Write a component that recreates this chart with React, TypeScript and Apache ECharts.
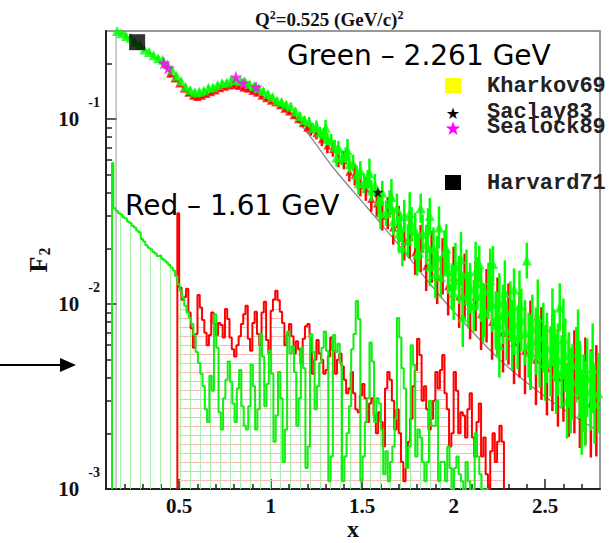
import React, { useEffect, useRef } from 'react';
import * as echarts from 'echarts';

const X_MIN = 0.1;
const X_MAX = 2.8;
const Y_MIN = 0.001;
const Y_MAX = 0.3;

const xLabelTicks = [0.5, 1, 1.5, 2, 2.5];
const xMinorTicks = [0.2, 0.3, 0.4, 0.6, 0.7, 0.8, 0.9, 1.1, 1.2, 1.3, 1.4, 1.6, 1.7, 1.8, 1.9, 2.1, 2.2, 2.3, 2.4, 2.6, 2.7];
const yMinorTicks = [0.002, 0.003, 0.004, 0.005, 0.006, 0.007, 0.008, 0.009, 0.02, 0.03, 0.04, 0.05, 0.06, 0.07, 0.08, 0.09, 0.2];

// Green (2.261 GeV) histogram
const greenPeakX = 0.133;
const greenPeakF2 = 0.058;
const greenHistStart = 0.14;
const greenHistWidth = 0.0125;
const greenHist = [
  0.033, 0.032, 0.031, 0.0305, 0.0295, 0.029, 0.028, 0.0275, 0.0265, 0.026,
  0.025, 0.0245, 0.0225, 0.0218, 0.0208, 0.0202, 0.0198, 0.0192, 0.0188, 0.0182,
  0.0183, 0.0176, 0.0172, 0.0168, 0.0163, 0.0158, 0.0152, 0.0142, 0.0128, 0.0118,
  0.0108, 0.0098, 0.009, 0.0084, 0.0078, 0.0068,
  0.0055, 0.0048, 0.0042, 0.0036, 0.0027, 0.0023, 0.0041, 0.0034, 0.0088, 0.0058,
  0.0026, 0.0021, 0.0031, 0.0039, 0.0049, 0.0038, 0.0029, 0.0023, 0.0035, 0.0044,
  0.0028, 0.0022, 0.0021, 0.0028, 0.0047, 0.0036, 0.0021, 0.0027, 0.0069, 0.0052,
  0.0028, 0.0037, 0.0056, 0.0042, 0.0018, 0.0025, 0.0043, 0.0031, 0.0014, 0.0021,
  0.0071, 0.0054, 0.0059, 0.0043, 0.0022, 0.0031, 0.0058, 0.0045, 0.0013, 0.0017,
  0.0069, 0.0055, 0.0027, 0.0036, 0.0048, 0.0058, 0.0071, 0.0056, 0.0011, 0.0015,
  0.0068, 0.0055, 0.0061, 0.0048, 0.0011, 0.0015, 0.002, 0.0028, 0.0057, 0.0069,
  0.0104, 0.0083, 0.0011, 0.0015, 0.0023, 0.0031, 0.0062, 0.0049, 0.0023, 0.0031,
  0.0029, 0.0021, 0.0012, 0.0016, 0.0011, 0.0014, 0.0017, 0.0024, 0.0084, 0.0066,
  0.0045, 0.0035, 0.0013, 0.0017, 0.006, 0.0047, 0.0015, 0.0021, 0.0019, 0.0014,
  0.0011, 0.0014, 0.003, 0.0022, 0.0022, 0.003, 0.0011, 0.0014, 0.0014, 0.0011,
  0.0017, 0.0013, 0.001, 0.0013, 0.0015, 0.0012, 0.0011, 0.0009, 0.0014, 0.0011,
  0.0009, 0.001, 0.002, 0.0015, 0.0012, 0.001, 0.0009, 0.001,
];

// Red (1.61 GeV) histogram
const redPeakX = 0.49;
const redPeakF2 = 0.031;
const redHistStart = 0.5;
const redHistWidth = 0.0125;
const redHist = [
  0.0123, 0.0106, 0.0109, 0.0121, 0.009, 0.0074, 0.0058, 0.0069, 0.0112, 0.0096,
  0.0082, 0.007, 0.006, 0.0068, 0.009, 0.0078, 0.0068, 0.0079, 0.0077, 0.0066,
  0.0094, 0.0083, 0.0066, 0.0057, 0.0052, 0.006, 0.0067, 0.0078, 0.0088, 0.0098,
  0.0065, 0.0056, 0.0079, 0.0091, 0.0069, 0.006, 0.009, 0.0103, 0.0064, 0.0054,
  0.0092, 0.0106, 0.0118, 0.0105, 0.0091, 0.0079, 0.006, 0.0068, 0.0078, 0.0067,
  0.0054, 0.0063, 0.0057, 0.0048, 0.0065, 0.0076, 0.0078, 0.0066, 0.0042, 0.005,
  0.0064, 0.0054, 0.005, 0.0042, 0.0044, 0.0052, 0.0066, 0.0056, 0.0042, 0.005,
  0.0054, 0.0046, 0.0039, 0.0033, 0.0035, 0.0043, 0.0033, 0.0027, 0.0026, 0.0032,
  0.0037, 0.0031, 0.0023, 0.0029, 0.0031, 0.0025, 0.002, 0.0026, 0.0023, 0.0017,
  0.0035, 0.0043, 0.0039, 0.003, 0.0021, 0.0027, 0.002, 0.0014, 0.0011, 0.0013,
  0.0018, 0.0024, 0.0036, 0.0044, 0.0065, 0.0053, 0.003, 0.0036, 0.0027, 0.0021,
  0.0024, 0.003, 0.0043, 0.0035, 0.0044, 0.0053, 0.0033, 0.0027, 0.0017, 0.002,
  0.0043, 0.0034, 0.002, 0.0026, 0.0025, 0.0019, 0.0027, 0.0033, 0.0019, 0.0015,
  0.0023, 0.0029, 0.0015, 0.0019, 0.0012, 0.001, 0.0016, 0.002, 0.0014, 0.0018,
  0.0022, 0.0018,
];

// Green data points (2.261 GeV): x, F2, relative error
const greenX = [
  0.16, 0.185, 0.21, 0.235, 0.26, 0.285, 0.31, 0.335, 0.36, 0.385,
  0.41, 0.435, 0.46, 0.485, 0.51, 0.535, 0.56, 0.585, 0.61, 0.635,
  0.66, 0.685, 0.71, 0.735, 0.76, 0.785, 0.81, 0.835, 0.86, 0.885,
  0.91, 0.935, 0.96, 0.985, 1.01, 1.035, 1.06, 1.085, 1.11, 1.135,
  1.16, 1.185,
  1.21, 1.23, 1.25, 1.27, 1.29, 1.31, 1.33, 1.35, 1.37, 1.39,
  1.41, 1.43, 1.45, 1.47, 1.49, 1.51, 1.53, 1.55, 1.57, 1.59,
  1.61, 1.63, 1.65, 1.67, 1.69, 1.71, 1.73, 1.75, 1.77, 1.79,
  1.81, 1.83, 1.85, 1.87, 1.89, 1.91, 1.93, 1.95, 1.97, 1.99,
  2.01, 2.03, 2.05, 2.07, 2.09, 2.11, 2.13, 2.15, 2.17, 2.19,
  2.21, 2.23, 2.25, 2.27, 2.29, 2.31, 2.33, 2.35, 2.37, 2.39,
  2.41, 2.43, 2.45, 2.47, 2.49, 2.51, 2.53, 2.55, 2.57, 2.59,
  2.61, 2.63, 2.65, 2.67, 2.69, 2.71, 2.73, 2.75, 2.77, 2.79,
  1.72, 1.82, 1.87, 1.92, 2.05, 2.14, 2.215, 2.25, 2.33, 2.4, 2.58, 2.62, 2.7,
  1.3, 1.36, 1.42, 1.48, 1.54, 1.6, 1.66, 1.7, 1.76, 1.8,
  1.86, 1.9, 1.96, 2.0, 2.04, 2.08, 2.12, 2.16, 2.2, 2.24,
  2.28, 2.32, 2.36, 2.42, 2.46, 2.5, 2.54, 2.56, 2.6, 2.64,
  2.68, 2.72, 2.76,
];
const greenF2 = [
  0.3, 0.292, 0.282, 0.276, 0.262, 0.252, 0.238, 0.231, 0.222, 0.214,
  0.21, 0.198, 0.186, 0.172, 0.161, 0.15, 0.144, 0.14, 0.141, 0.143,
  0.148, 0.149, 0.153, 0.157, 0.158, 0.163, 0.163, 0.161, 0.16, 0.155,
  0.151, 0.147, 0.142, 0.137, 0.132, 0.126, 0.124, 0.12, 0.117, 0.11,
  0.104, 0.099,
  0.097, 0.09, 0.092, 0.085, 0.083, 0.078, 0.077, 0.071, 0.07, 0.062,
  0.064, 0.057, 0.058, 0.05, 0.053, 0.045, 0.047, 0.041, 0.044, 0.036,
  0.04, 0.031, 0.035, 0.028, 0.033, 0.026, 0.03, 0.022, 0.027, 0.025,
  0.019, 0.024, 0.021, 0.016, 0.02, 0.018, 0.014, 0.019, 0.015, 0.0125,
  0.016, 0.0135, 0.011, 0.0145, 0.0122, 0.0098, 0.013, 0.0112, 0.0092, 0.0118,
  0.01, 0.0082, 0.0102, 0.0088, 0.0072, 0.0091, 0.0078, 0.0066, 0.0082, 0.007,
  0.006, 0.0074, 0.0063, 0.0054, 0.0066, 0.0058, 0.0049, 0.006, 0.005, 0.0043,
  0.0053, 0.0044, 0.0038, 0.0047, 0.0039, 0.0033, 0.004, 0.0034, 0.0029, 0.0033,
  0.02, 0.033, 0.03, 0.026, 0.0085, 0.0165, 0.0165, 0.006, 0.012, 0.0172, 0.0096, 0.003, 0.0026,
  0.09, 0.062, 0.068, 0.045, 0.051, 0.031, 0.038, 0.024, 0.031, 0.0185,
  0.025, 0.0145, 0.02, 0.0115, 0.0175, 0.0105, 0.015, 0.009, 0.0135, 0.0078,
  0.0115, 0.0068, 0.0098, 0.0055, 0.0085, 0.0048, 0.0075, 0.0042, 0.0065, 0.0034,
  0.0055, 0.0029, 0.0045,
];
const greenErr = [
  0.03, 0.03, 0.03, 0.03, 0.03, 0.03, 0.03, 0.03, 0.03, 0.03,
  0.03, 0.03, 0.03, 0.03, 0.03, 0.03, 0.03, 0.03, 0.03, 0.03,
  0.03, 0.03, 0.03, 0.03, 0.03, 0.03, 0.03, 0.03, 0.03, 0.03,
  0.04, 0.04, 0.04, 0.04, 0.04, 0.04, 0.04, 0.04, 0.05, 0.05,
  0.05, 0.05,
  0.06, 0.06, 0.07, 0.07, 0.08, 0.08, 0.08, 0.09, 0.09, 0.1,
  0.1, 0.11, 0.11, 0.12, 0.12, 0.13, 0.13, 0.14, 0.15, 0.15,
  0.16, 0.17, 0.18, 0.19, 0.2, 0.2, 0.22, 0.23, 0.24, 0.25,
  0.26, 0.27, 0.28, 0.28, 0.3, 0.3, 0.3, 0.32, 0.32, 0.33,
  0.34, 0.35, 0.35, 0.36, 0.37, 0.38, 0.38, 0.4, 0.4, 0.42,
  0.42, 0.43, 0.44, 0.45, 0.45, 0.46, 0.47, 0.48, 0.48, 0.5,
  0.5, 0.52, 0.52, 0.53, 0.54, 0.55, 0.55, 0.56, 0.57, 0.58,
  0.58, 0.6, 0.6, 0.6, 0.62, 0.62, 0.63, 0.64, 0.65, 0.65,
  0.25, 0.2, 0.25, 0.3, 0.45, 0.25, 0.25, 0.5, 0.3, 0.25, 0.35, 0.6, 0.7,
  0.1, 0.12, 0.15, 0.15, 0.2, 0.22, 0.25, 0.25, 0.3, 0.3,
  0.32, 0.35, 0.35, 0.4, 0.4, 0.42, 0.45, 0.45, 0.48, 0.5,
  0.5, 0.55, 0.55, 0.6, 0.6, 0.6, 0.62, 0.65, 0.65, 0.7,
  0.7, 0.7, 0.75,
];

// Red data points (1.61 GeV)
const redX = [
  0.45, 0.475, 0.5, 0.525, 0.55, 0.575, 0.6, 0.625, 0.65, 0.675,
  0.7, 0.725, 0.75, 0.775, 0.8, 0.825, 0.85, 0.875, 0.9, 0.925,
  0.95, 0.975, 1.0, 1.025, 1.05, 1.075, 1.1, 1.125, 1.15, 1.175, 1.2,
  1.22, 1.25, 1.28, 1.31, 1.34, 1.37, 1.4, 1.43, 1.46, 1.49,
  1.52, 1.55, 1.58, 1.61, 1.64, 1.67, 1.7, 1.73, 1.76, 1.79,
  1.82, 1.85, 1.88, 1.91, 1.94, 1.97, 2.0, 2.03, 2.06, 2.09,
  2.12, 2.15, 2.18, 2.21, 2.24, 2.27, 2.3, 2.33, 2.36, 2.39,
  2.42, 2.45, 2.48, 2.51, 2.54, 2.57, 2.6, 2.63, 2.66, 2.69,
  2.72, 2.75, 2.78,
];
const redF2 = [
  0.176, 0.166, 0.156, 0.146, 0.139, 0.134, 0.132, 0.134, 0.137, 0.14,
  0.143, 0.147, 0.15, 0.152, 0.153, 0.151, 0.148, 0.146, 0.142, 0.139,
  0.134, 0.13, 0.126, 0.123, 0.119, 0.114, 0.11, 0.105, 0.1, 0.095, 0.09,
  0.088, 0.084, 0.078, 0.072, 0.069, 0.061, 0.06, 0.052, 0.05, 0.044,
  0.042, 0.037, 0.035, 0.03, 0.031, 0.026, 0.027, 0.022, 0.023, 0.019,
  0.02, 0.016, 0.018, 0.014, 0.016, 0.0125, 0.014, 0.011, 0.0125, 0.0098,
  0.011, 0.0088, 0.0098, 0.008, 0.0086, 0.007, 0.0078, 0.0062, 0.0068, 0.0056,
  0.006, 0.005, 0.0054, 0.0045, 0.0048, 0.004, 0.0043, 0.0036, 0.0038, 0.0032,
  0.0034, 0.0029, 0.003,
];
const redErr = [
  0.04, 0.04, 0.04, 0.04, 0.04, 0.04, 0.04, 0.04, 0.04, 0.04,
  0.04, 0.04, 0.04, 0.04, 0.04, 0.04, 0.04, 0.04, 0.04, 0.04,
  0.04, 0.04, 0.04, 0.04, 0.04, 0.04, 0.04, 0.04, 0.04, 0.04, 0.04,
  0.08, 0.08, 0.09, 0.1, 0.1, 0.11, 0.12, 0.13, 0.14, 0.15,
  0.16, 0.17, 0.18, 0.2, 0.22, 0.24, 0.26, 0.28, 0.3, 0.32,
  0.34, 0.36, 0.38, 0.4, 0.42, 0.44, 0.46, 0.48, 0.5, 0.52,
  0.54, 0.56, 0.58, 0.6, 0.62, 0.64, 0.66, 0.68, 0.7, 0.72,
  0.74, 0.76, 0.78, 0.8, 0.82, 0.84, 0.86, 0.88, 0.9, 0.92,
  0.94, 0.96, 1.0,
];

// Model curve (grey)
const thresholdX = 0.155;
const theoryX = [0.19, 0.209, 0.286, 0.373, 0.477, 0.54, 0.59, 0.64, 0.7, 0.78, 0.865, 0.94, 1.013, 1.105, 1.215, 1.34, 1.526, 1.723, 1.854, 1.98, 2.253, 2.526, 2.783];
const theoryF2 = [0.31, 0.284, 0.251, 0.214, 0.167, 0.14, 0.127, 0.131, 0.146, 0.155, 0.155, 0.144, 0.13, 0.109, 0.081, 0.055, 0.0334, 0.0196, 0.0135, 0.0096, 0.005, 0.00303, 0.00208];

// Other experiments
const harvardX = [0.27];
const harvardF2 = [0.261];
const sealockX = [0.417, 0.44, 0.81, 0.85, 0.92];
const sealockF2 = [0.201, 0.189, 0.169, 0.157, 0.149];
const saclayX = [1.586];
const saclayF2 = [0.0403];

const STAR = 'path://M50,0L61.8,35.1L98.9,35.4L69.1,57.5L80.2,92.9L50,71.4L19.8,92.9L30.9,57.5L1.1,35.4L38.2,35.1Z';
const SERIF = 'Liberation Serif';

function stepData(peakX: number, peakV: number, start: number, width: number, vals: number[]) {
  const d: number[][] = [[peakX, Y_MIN], [peakX, peakV]];
  vals.forEach((v, i) => d.push([start + i * width, v]));
  const end = start + vals.length * width;
  d.push([end, vals[vals.length - 1]]);
  d.push([end, Y_MIN]);
  return d;
}

function binData(start: number, width: number, vals: number[]) {
  return vals.map((v, i) => [start + i * width, start + (i + 1) * width, v]);
}

function errData(xs: number[], ys: number[], es: number[]) {
  return xs.map((x, i) => [x, ys[i] / (1 + es[i]), ys[i] * (1 + es[i])]);
}

function pts(xs: number[], ys: number[]) {
  return xs.map((x, i) => [x, ys[i]]);
}

function errSeries(name: string, data: number[][], color: string, z: number, width: number) {
  return {
    type: 'custom',
    name,
    z,
    clip: true,
    silent: true,
    encode: { x: 0, y: [1, 2] },
    data,
    renderItem: (_p: any, api: any) => {
      const a = api.coord([api.value(0), api.value(1)]);
      const b = api.coord([api.value(0), api.value(2)]);
      return {
        type: 'line',
        shape: { x1: a[0], y1: a[1], x2: b[0], y2: b[1] },
        style: { stroke: color, lineWidth: width },
      };
    },
  };
}

export default function App() {
  const ref = useRef<HTMLDivElement>(null);
  useEffect(() => {
    if (!ref.current) return;
    const chart = echarts.init(ref.current, null, { renderer: 'svg' });

    const lineStyle = { color: '#222', width: 1.5 };

    const option: any = {
      animation: false,
      backgroundColor: '#ffffff',
      title: {
        left: 250,
        top: 4,
        text: '{a|Q}{s|2}{a|=0.525 (GeV/c)}{s|2}',
        textStyle: {
          rich: {
            a: { fontFamily: SERIF, fontWeight: 'bold', fontSize: 19, color: '#111' },
            s: { fontFamily: SERIF, fontWeight: 'bold', fontSize: 12, color: '#111', padding: [0, 0, 9, 0] },
          },
        },
      },
      grid: {
        left: 106, right: 13, top: 31, bottom: 54,
        show: true, borderColor: '#777', borderWidth: 1.5,
        backgroundColor: 'transparent', containLabel: false, outerBoundsMode: 'none',
      },
      xAxis: [
        {
          type: 'value', min: X_MIN, max: X_MAX, position: 'bottom',
          axisLine: { onZero: false, lineStyle: { color: '#222', width: 2 } },
          axisTick: { inside: true, length: 10, customValues: xLabelTicks, lineStyle },
          axisLabel: {
            customValues: xLabelTicks, formatter: (v: number) => String(v),
            color: '#111', fontFamily: SERIF, fontWeight: 'bold', fontSize: 21, lineHeight: 20, margin: 7,
          },
          splitLine: { show: false },
          name: 'x', nameLocation: 'middle', nameGap: 29, nameMoveOverlap: false,
          nameTextStyle: { fontFamily: SERIF, fontWeight: 'bold', fontSize: 24, color: '#111', lineHeight: 22 },
        },
        {
          type: 'value', min: X_MIN, max: X_MAX, position: 'bottom',
          axisLine: { show: false, onZero: false },
          axisTick: { inside: true, length: 5, customValues: xMinorTicks, lineStyle },
          axisLabel: { show: false },
          splitLine: { show: false },
        },
      ],
      yAxis: [
        {
          type: 'log', logBase: 10, min: Y_MIN, max: Y_MAX, position: 'left',
          axisLine: { onZero: false, lineStyle: { color: '#222', width: 2 } },
          axisTick: { inside: true, length: 11, lineStyle },
          axisLabel: {
            showMaxLabel: false, margin: 6,
            formatter: (v: number) => `{b|10}{s|${Math.round(Math.log10(v))}}`,
            rich: {
              b: { fontFamily: SERIF, fontWeight: 'bold', fontSize: 21, color: '#111' },
              s: { fontFamily: SERIF, fontWeight: 'bold', fontSize: 14, color: '#111', padding: [0, 0, 34, 9] },
            },
          },
          splitLine: { show: false },
          name: '{f|F}{s|2}', nameLocation: 'middle', nameRotate: 90, nameGap: 54, nameMoveOverlap: false,
          nameTextStyle: {
            rich: {
              f: { fontFamily: SERIF, fontWeight: 'bold', fontSize: 26, color: '#111' },
              s: { fontFamily: SERIF, fontWeight: 'bold', fontSize: 16, color: '#111', padding: [12, 0, 0, 1] },
            },
          },
        },
        {
          type: 'value', min: Math.log10(Y_MIN), max: Math.log10(Y_MAX), position: 'left',
          axisLine: { show: false, onZero: false },
          axisTick: { inside: true, length: 6, customValues: yMinorTicks.map((v) => Math.log10(v)), lineStyle },
          axisLabel: { show: false },
          splitLine: { show: false },
        },
      ],
      graphic: [
        { type: 'text', x: 287, y: 55, z: 100, style: { text: 'Green – 2.261 GeV', fontFamily: 'DejaVu Sans', fontSize: 28, fill: '#000', align: 'left', verticalAlign: 'middle' } },
        { type: 'text', x: 125, y: 205, z: 100, style: { text: 'Red – 1.61 GeV', fontFamily: 'DejaVu Sans', fontSize: 28, fill: '#000', align: 'left', verticalAlign: 'middle' } },
        { type: 'line', shape: { x1: 0, y1: 365, x2: 64, y2: 365 }, style: { stroke: '#000', lineWidth: 2 } },
        { type: 'polygon', shape: { points: [[60, 358], [76, 365], [60, 372]] }, style: { fill: '#000' } },
        { type: 'rect', shape: { x: 445, y: 78, width: 16, height: 15 }, style: { fill: '#ffff00' }, z: 100 },
        { type: 'text', x: 453, y: 113, z: 100, style: { text: '★', fontFamily: 'DejaVu Sans', fontSize: 16, fill: '#000', align: 'center', verticalAlign: 'middle' } },
        { type: 'text', x: 453, y: 128, z: 100, style: { text: '★', fontFamily: 'DejaVu Sans', fontSize: 19, fill: '#ff00ff', align: 'center', verticalAlign: 'middle' } },
        { type: 'rect', shape: { x: 445, y: 175, width: 16, height: 15 }, style: { fill: '#000' }, z: 100 },
        { type: 'text', x: 487, y: 86, z: 100, style: { text: 'Kharkov69', fontFamily: 'Liberation Mono', fontWeight: 'bold', fontSize: 22, fill: '#222', verticalAlign: 'middle' } },
        { type: 'text', x: 487, y: 112, z: 100, style: { text: 'Saclay83', fontFamily: 'Liberation Mono', fontWeight: 'bold', fontSize: 22, fill: '#222', verticalAlign: 'middle' } },
        { type: 'text', x: 487, y: 127, z: 100, style: { text: 'Sealock89', fontFamily: 'Liberation Mono', fontWeight: 'bold', fontSize: 22, fill: '#222', verticalAlign: 'middle' } },
        { type: 'text', x: 487, y: 183, z: 100, style: { text: 'Harvard71', fontFamily: 'Liberation Mono', fontWeight: 'bold', fontSize: 22, fill: '#222', verticalAlign: 'middle' } },
      ],
      series: [
        {
          type: 'custom', name: 'red hatch', z: 1, clip: true, silent: true,
          encode: { x: [0, 1], y: 2 },
          data: binData(redHistStart, redHistWidth, redHist),
          renderItem: (_p: any, api: any) => {
            const tl = api.coord([api.value(0), api.value(2)]);
            const br = api.coord([api.value(1), Y_MIN]);
            const children: any[] = [];
            for (let py = br[1] - 9; py > tl[1]; py -= 9) {
              const y = Math.round(py) + 0.5;
              children.push({ type: 'line', shape: { x1: tl[0], y1: y, x2: br[0], y2: y }, style: { stroke: '#ffb0b0', lineWidth: 1 } });
            }
            return { type: 'group', children };
          },
        },
        {
          type: 'custom', name: 'green hatch', z: 1, clip: true, silent: true,
          encode: { x: [0, 1], y: 2 },
          data: binData(greenHistStart, greenHistWidth, greenHist),
          renderItem: (_p: any, api: any) => {
            const tl = api.coord([api.value(0), api.value(2)]);
            const br = api.coord([api.value(1), Y_MIN]);
            const children: any[] = [];
            for (let px = Math.ceil(tl[0] / 10) * 10; px < br[0]; px += 10) {
              children.push({ type: 'line', shape: { x1: px + 0.5, y1: br[1], x2: px + 0.5, y2: tl[1] }, style: { stroke: '#a8f2a8', lineWidth: 1 } });
            }
            return { type: 'group', children };
          },
        },
        {
          type: 'line', name: 'red histogram', z: 2, step: 'end', symbol: 'none', silent: true,
          data: stepData(redPeakX, redPeakF2, redHistStart, redHistWidth, redHist),
          lineStyle: { color: '#ff0000', width: 2 },
        },
        {
          type: 'line', name: 'green histogram', z: 3, step: 'end', symbol: 'none', silent: true,
          data: stepData(greenPeakX, greenPeakF2, greenHistStart, greenHistWidth, greenHist),
          lineStyle: { color: '#11ee11', width: 2 },
        },
        {
          type: 'line', name: 'threshold', z: 3, symbol: 'none', silent: true,
          data: [[thresholdX, Y_MIN], [thresholdX, Y_MAX]],
          lineStyle: { color: '#999', width: 1 },
        },
        {
          type: 'line', name: 'model', z: 3, symbol: 'none', smooth: 0.3, silent: true,
          data: pts(theoryX, theoryF2),
          lineStyle: { color: '#888', width: 1.3 },
        },
        errSeries('red errors', errData(redX, redF2, redErr), '#ff0000', 4, 2.5),
        {
          type: 'scatter', name: '1.61 GeV', z: 5, symbol: 'triangle', symbolSize: 8, silent: true,
          data: pts(redX, redF2), itemStyle: { color: '#ff0000' },
        },
        errSeries('green errors', errData(greenX, greenF2, greenErr), '#00ff00', 6, 2.5),
        {
          type: 'scatter', name: '2.261 GeV', z: 7, symbol: 'triangle', symbolSize: 10, silent: true,
          data: pts(greenX, greenF2), itemStyle: { color: '#00ff00' },
        },
        {
          type: 'scatter', name: 'Harvard71', z: 8, symbol: 'rect', symbolSize: 16, silent: true,
          data: pts(harvardX, harvardF2), itemStyle: { color: '#000' },
        },
        {
          type: 'scatter', name: 'Sealock89', z: 8, symbol: STAR, symbolSize: 13, silent: true,
          data: pts(sealockX, sealockF2), itemStyle: { color: '#ff00ff' },
        },
        {
          type: 'scatter', name: 'Saclay83', z: 8, symbol: STAR, symbolSize: 11, silent: true,
          data: pts(saclayX, saclayF2), itemStyle: { color: '#000' },
        },
      ],
    };

    chart.setOption(option);
    return () => chart.dispose();
  }, []);

  return (
    <div
      ref={ref}
      style={{ position: 'absolute', left: 0, top: 0, width: 613, height: 543, background: '#fff' }}
    />
  );
}
